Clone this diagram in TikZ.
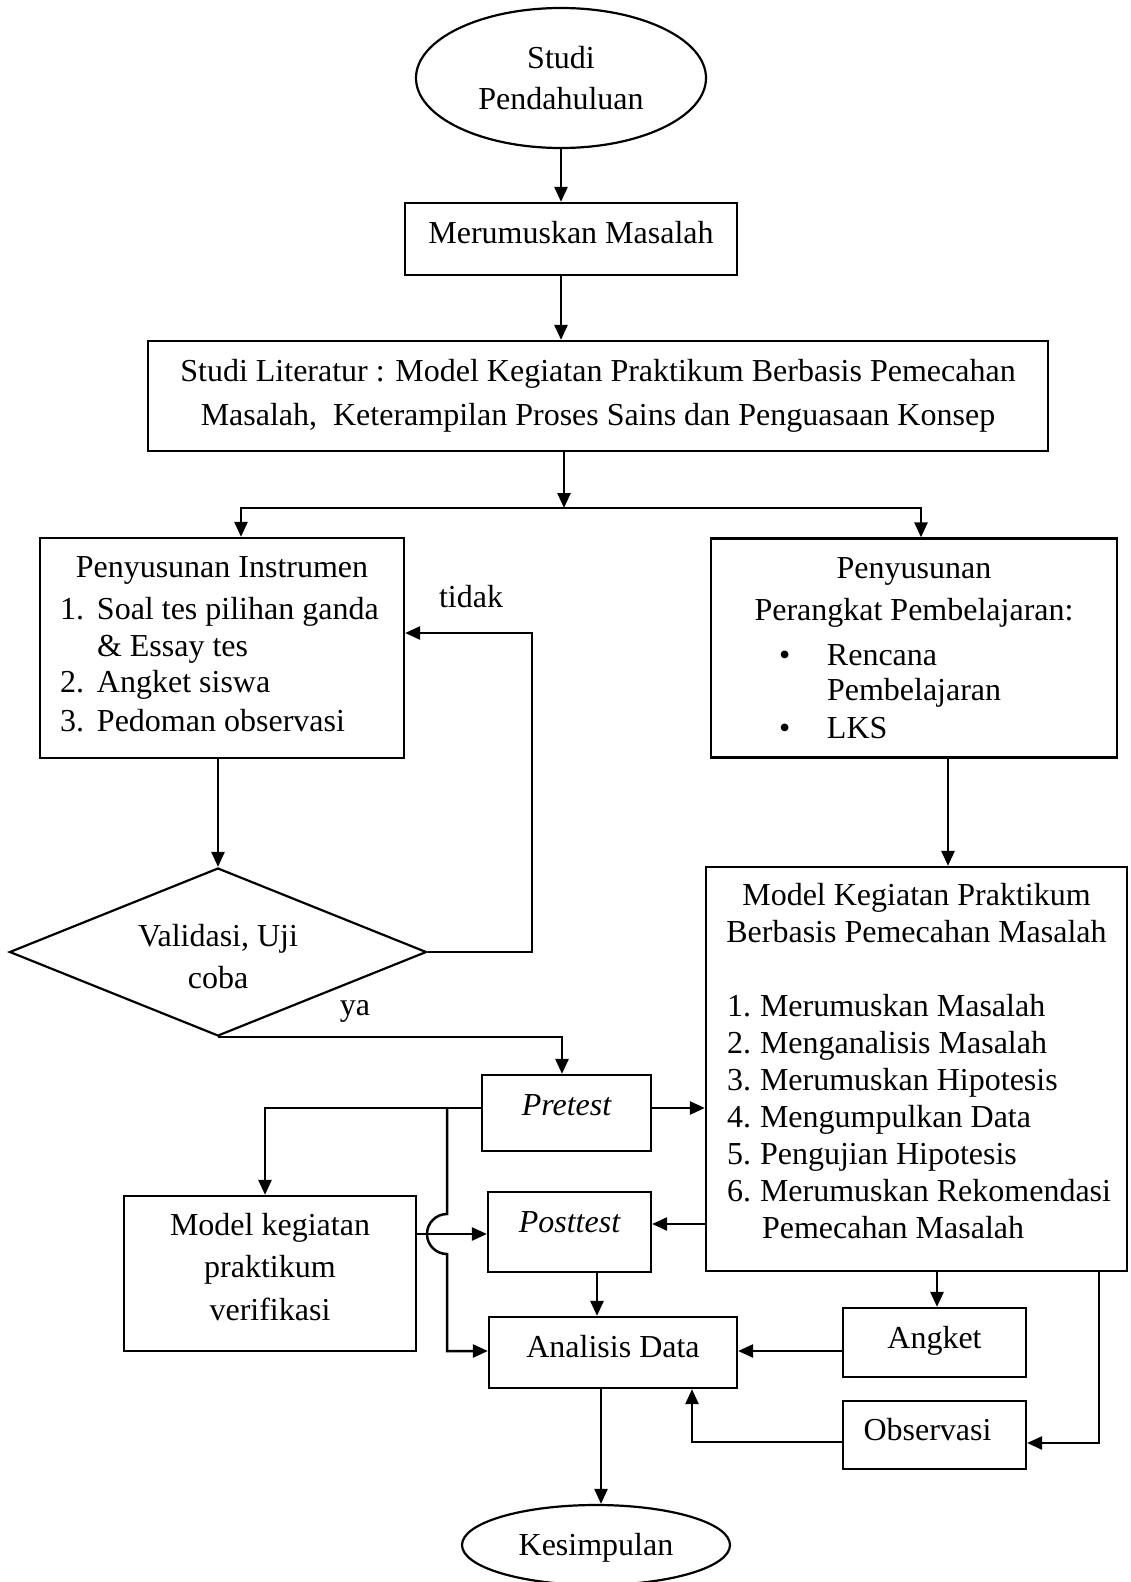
\documentclass[tikz,border=0pt]{standalone}
\usepackage{fontspec}
\setmainfont{Liberation Serif}
\usetikzlibrary{arrows.meta,shapes.geometric}
\newcommand\lift[2]{\raisebox{#1}[0pt][0pt]{#2}}
\newcommand\cbx[2]{\makebox[#1][c]{#2}}
\newcommand\lbx[2]{\makebox[#1][l]{#2}}
\begin{document}
\begin{tikzpicture}[x=1pt,y=-1pt,
  every node/.style={font=\fontsize{32}{37}\selectfont},
  box/.style={draw, line width=2.2pt, rectangle, inner sep=0pt},
  oval/.style={draw, line width=2.2pt, ellipse, inner sep=0pt},
  arr/.style={line width=2.5pt, -{Triangle[length=15pt,width=13pt]}},
]
\useasboundingbox (0,0) rectangle (1130,1582);

% nodes
\node[oval, minimum width=290pt, minimum height=140pt, align=center,
      font=\fontsize{32}{41}\selectfont] (ell1) at (561,78) {Studi\\Pendahuluan};
\node[box, minimum width=332pt, minimum height=72pt] (mm) at (571,239) {\lift{-4pt}{Merumuskan Masalah}};
\node[box, minimum width=900pt, minimum height=110pt, align=center,
      font=\fontsize{32}{44}\selectfont] (lit) at (598,396)
  {Studi Literatur : Model Kegiatan Praktikum Berbasis Pemecahan\\Masalah,\ \ Keterampilan Proses Sains dan Penguasaan Konsep};

\node[box, minimum width=364pt, minimum height=220pt, align=center,
      text depth=8pt, font=\fontsize{32}{38.5}\selectfont] (inst) at (222,648)
  {\cbx{324pt}{Penyusunan Instrumen}\\[3.5pt]
   \lbx{324pt}{\lbx{37pt}{1.}Soal tes pilihan ganda}\\[-1.5pt]
   \lbx{324pt}{\hspace*{37pt}\& Essay tes}\\[-2.5pt]
   \lbx{324pt}{\lbx{37pt}{2.}Angket siswa}\\[0.5pt]
   \lbx{324pt}{\lbx{37pt}{3.}Pedoman observasi}};

\node[box, minimum width=406pt, minimum height=219pt, align=center,
      font=\fontsize{32}{40}\selectfont] (perangkat) at (914,648)
  {\cbx{376pt}{Penyusunan}\\[2pt]
   \cbx{376pt}{Perangkat Pembelajaran:}\\[5pt]
   \lbx{376pt}{\hspace*{53pt}\lbx{48pt}{•}Rencana}\\[-5pt]
   \lbx{376pt}{\hspace*{101pt}Pembelajaran}\\[-2pt]
   \lbx{376pt}{\hspace*{53pt}\lbx{48pt}{•}LKS}};

\node[draw, line width=2.2pt, diamond, aspect=2.48, minimum width=417pt, minimum height=168pt,
      inner sep=0pt, align=center, text height=74pt, font=\fontsize{32}{42}\selectfont] (dia) at (218,952)
  {Validasi, Uji\\coba};

\node[box, minimum width=421pt, minimum height=404pt, align=center,
      text depth=17pt, font=\fontsize{32}{37}\selectfont] (model) at (916.5,1069)
  {\cbx{390pt}{Model Kegiatan Praktikum}\\
   \cbx{390pt}{Berbasis Pemecahan Masalah}\\[37pt]
   \lbx{390pt}{\hspace*{5.5pt}\lbx{33pt}{1.}Merumuskan Masalah}\\
   \lbx{390pt}{\hspace*{5.5pt}\lbx{33pt}{2.}Menganalisis Masalah}\\
   \lbx{390pt}{\hspace*{5.5pt}\lbx{33pt}{3.}Merumuskan Hipotesis}\\
   \lbx{390pt}{\hspace*{5.5pt}\lbx{33pt}{4.}Mengumpulkan Data}\\
   \lbx{390pt}{\hspace*{5.5pt}\lbx{33pt}{5.}Pengujian Hipotesis}\\
   \lbx{390pt}{\hspace*{5.5pt}\lbx{33pt}{6.}Merumuskan Rekomendasi}\\
   \lbx{390pt}{\hspace*{40.5pt}Pemecahan Masalah}};

\node[box, minimum width=169pt, minimum height=76pt] (pre) at (566.5,1113) {\lift{-2pt}{\itshape Pretest}};
\node[box, minimum width=163pt, minimum height=80pt] (post) at (569.5,1232) {\lift{0pt}{\itshape Posttest}};
\node[box, minimum width=292pt, minimum height=155pt, align=center, text depth=14pt,
      font=\fontsize{32}{42.5}\selectfont] (verif) at (270,1273.5)
  {Model kegiatan\\praktikum\\verifikasi};
\node[box, minimum width=248pt, minimum height=71pt] (ana) at (613,1352.5) {\lift{-4.5pt}{Analisis Data}};
\node[box, minimum width=183pt, minimum height=69pt] (angket) at (934.5,1342.5) {\lift{-5.5pt}{Angket}};
\node[box, minimum width=183pt, minimum height=68pt] (obs) at (934.5,1435) {\lift{-5pt}{\hspace*{-14pt}Observasi}};
\node[oval, minimum width=268pt, minimum height=80pt] (kes) at (596,1545) {\lift{-10pt}{Kesimpulan}};

% labels
\node[anchor=base] (tidak) at (471,607) {tidak};
\node[anchor=base] (ya) at (355,1015) {ya};

% helper coordinates
\coordinate (split) at (564,508);
\coordinate (fb) at (532,633);
\coordinate (vj) at (447,1108);

% connectors
\draw[arr] (ell1.south) -- (ell1.south |- mm.north);
\draw[arr] ([xshift=-10pt]mm.south) -- ([xshift=-10pt]mm.south |- lit.north);
\draw[arr] ([xshift=-34pt]lit.south) -- (split);
\draw[arr] (split) -| ([xshift=19pt]inst.north);
\draw[arr] (split) -| ([xshift=7pt]perangkat.north);
\draw[arr] (inst.south -| dia.north) -- (dia.north);
\draw[arr] (dia.east) -| (fb) -- (fb -| inst.east);
\draw[arr] (dia.south) -| ([xshift=-4.5pt]pre.north);
\draw[arr] ([xshift=34pt]perangkat.south) -- ([xshift=34pt]perangkat.south |- model.north);
\draw[arr] ([yshift=5pt]pre.east) -- ([yshift=5pt]pre.east -| model.west);
\draw[arr] ([yshift=5pt]pre.west) -| ([xshift=-5pt]verif.north);
\draw[arr] (vj) -- (447,1214) arc[start angle=90, end angle=270, radius=20pt]
           -- (447,1351) -- (ana.west |- 0,1351);
\draw[arr] ([yshift=39.5pt]verif.east) -- ([yshift=39.5pt]verif.east -| post.west);
\draw[arr] ([yshift=-155pt]model.west) -- ([yshift=-155pt]model.west -| post.east);
\draw[arr] ([xshift=27.5pt]post.south) -- ([xshift=27.5pt]post.south |- ana.north);
\draw[arr] ([xshift=20.5pt]model.south) -- ([xshift=20.5pt]model.south |- angket.north);
\draw[arr] ([yshift=-8.5pt]angket.west) -- ([yshift=-8.5pt]angket.west -| ana.east);
\draw[arr] ([xshift=182.5pt]model.south) |- ([yshift=-8pt]obs.east);
\draw[arr] ([yshift=-7pt]obs.west) -| ([xshift=79pt]ana.south);
\draw[arr] ([xshift=-12pt]ana.south) -- ([xshift=-12pt]ana.south |- kes.north);
\end{tikzpicture}
\end{document}
